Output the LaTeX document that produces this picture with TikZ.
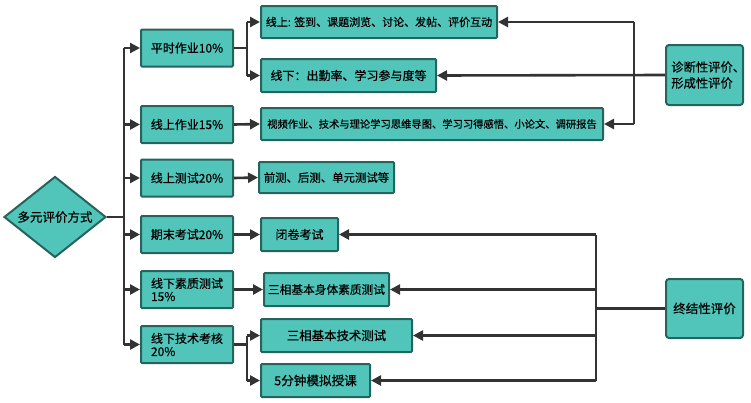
\documentclass[tikz,border=0pt]{standalone}
\usepackage{fontspec}
\setmainfont{Noto Sans CJK SC}[FakeBold=0.5]
\usetikzlibrary{shapes.geometric,arrows.meta}
\definecolor{boxfill}{HTML}{52C5BA}
\definecolor{boxline}{HTML}{25645C}
\definecolor{conn}{HTML}{333333}
\tikzset{
  box/.style={draw=boxline, fill=boxfill, line width=2pt, rounded corners=1pt, inner sep=0pt, font=\fontsize{12pt}{14pt}\selectfont, text=black},
  rbox/.style={box, rounded corners=3pt, align=left},
  wire/.style={draw=conn, line width=2.6pt},
  arr/.style={wire, -{Triangle[length=10pt,width=10pt]}},
}
\begin{document}
\begin{tikzpicture}[x=1pt,y=-1pt]
\useasboundingbox (0,0) rectangle (751,402);
% root
\node[box, diamond, shape aspect=1.3, minimum width=102pt, minimum height=81pt, rounded corners=0pt, font=\fontsize{12.5pt}{14pt}\selectfont] (root) at (55,217) {多元评价方式};
% level 1
\node[box, minimum width=92pt, minimum height=37pt] (l1) at (187,48) {平时作业10\%};
\node[box, minimum width=92pt, minimum height=37pt] (l2) at (187,124.5) {线上作业15\%};
\node[box, minimum width=92pt, minimum height=37pt] (l3) at (187,178) {线上测试20\%};
\node[box, minimum width=92pt, minimum height=37pt] (l4) at (187,234.5) {期末考试20\%};
\node[box, minimum width=92pt, minimum height=37pt, align=left, font=\fontsize{12pt}{13pt}\selectfont] (l5) at (187,289.5) {线下素质测试\\15\%};
\node[box, minimum width=92pt, minimum height=37pt, align=left, font=\fontsize{12pt}{13pt}\selectfont] (l6) at (187,344.5) {线下技术考核\\20\%};
% level 2
\node[box, minimum width=236pt, minimum height=32pt, font=\fontsize{11pt}{13pt}\selectfont] (a1) at (379,22) {线上: 签到、课题浏览、讨论、发帖、评价互动};
\node[box, minimum width=175pt, minimum height=33pt] (a2) at (348.5,75.5) {线下：出勤率、学习参与度等};
\node[box, minimum width=342pt, minimum height=32pt, font=\fontsize{10.3pt}{12pt}\selectfont] (a3) at (432,124) {视频作业、技术与理论学习思维导图、学习习得感悟、小论文、调研报告};
\node[box, minimum width=135pt, minimum height=31pt, font=\fontsize{11.4pt}{13pt}\selectfont] (a4) at (326.5,177.5) {前测、后测、单元测试等};
\node[box, minimum width=77pt, minimum height=33pt] (b1) at (299.5,234.5) {闭卷考试};
\node[box, minimum width=125pt, minimum height=33pt, font=\fontsize{11.7pt}{13pt}\selectfont] (b2) at (326.5,289.5) {三相基本身体素质测试};
\node[box, minimum width=151pt, minimum height=33pt, font=\fontsize{12.4pt}{14pt}\selectfont] (b3) at (336.5,335.5) {三相基本技术测试};
\node[box, minimum width=109pt, minimum height=33pt, font=\fontsize{12.6pt}{14pt}\selectfont] (b4) at (315.5,380.5) {5分钟模拟授课};
% right
\node[rbox, minimum width=77pt, minimum height=60pt, font=\fontsize{12.3pt}{16pt}\selectfont] (r1) at (704.5,75) {诊断性评价\makebox[0.4em][l]{、}\\形成性评价};
\node[rbox, minimum width=77pt, minimum height=59pt, font=\fontsize{12.5pt}{16pt}\selectfont] (r2) at (704.5,308.5) {终结性评价};
% trunk
\coordinate (tk) at (124,217);
\draw[wire] (root.east) -- (tk);
\draw[wire] (tk|-l1.west) -- (tk|-l6.west);
\foreach \n in {l1,l2,l3,l4,l5,l6} \draw[arr] (tk|-\n.west) -- (\n.west);
% forks
\coordinate (f1) at (247,48);
\draw[wire] (l1.east) -- (f1);
\draw[wire] (f1|-a1.west) -- (f1|-a2.west);
\draw[arr] (f1|-a1.west) -- (a1.west);
\draw[arr] (f1|-a2.west) -- (a2.west);
\draw[arr] (l2.east) -- (a3.west);
\draw[arr] (l3.east) -- (a4.west);
\draw[arr] (l4.east) -- (b1.west);
\draw[arr] (l5.east) -- (b2.west);
\coordinate (f2) at (247,344.5);
\draw[wire] (l6.east) -- (f2);
\draw[wire] (f2|-b3.west) -- (f2|-b4.west);
\draw[arr] (f2|-b3.west) -- (b3.west);
\draw[arr] (f2|-b4.west) -- (b4.west);
% right connectors
\coordinate (d1) at (634,75);
\draw[arr] (r1.west) -- (a2.east);
\draw[wire] (d1|-a1.east) -- (d1|-a3.east);
\draw[arr] (d1|-a1.east) -- (a1.east);
\draw[arr] (d1|-a3.east) -- (a3.east);
\coordinate (z) at (596,308.5);
\draw[wire] (r2.west) -- (z);
\draw[wire] (z|-b1.east) -- (z|-b4.east);
\foreach \n in {b1,b2,b3,b4} \draw[arr] (z|-\n.east) -- (\n.east);
\end{tikzpicture}
\end{document}
